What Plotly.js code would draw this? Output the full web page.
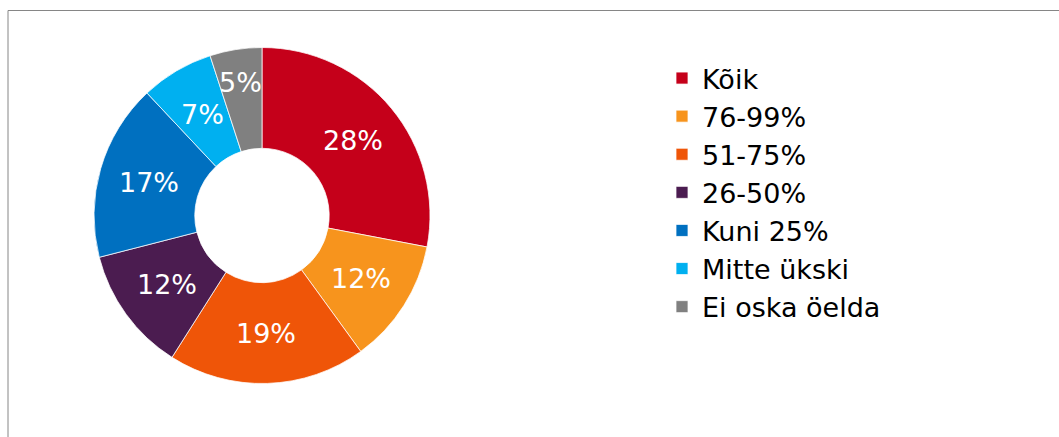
<!DOCTYPE html>
<html>
<head>
<meta charset="utf-8">
<script src="https://cdn.plot.ly/plotly-3.0.1.min.js"></script>
<style>html,body{margin:0;padding:0;background:#fff;}#chart{width:1059px;height:437px;}</style>
</head>
<body>
<div id="chart"></div>
<script>
const categories = ["Kõik", "76-99%", "51-75%", "26-50%", "Kuni 25%", "Mitte ükski", "Ei oska öelda"];
const shares = [28, 12, 19, 12, 17, 7, 5];
const colors = ["#C5001A", "#F7941D", "#EF5508", "#4B1C50", "#0070C0", "#00B0F0", "#808080"];

const W = 1059, H = 437;
// pie geometry (pixels)
const cx = 262, cy = 215.5, R = 168, HOLE = 0.4;
const FONT = "DejaVu Sans, Verdana, sans-serif";

const data = [{
  type: "pie",
  labels: categories,
  values: shares,
  sort: false,
  direction: "clockwise",
  rotation: 0,
  hole: HOLE,
  marker: {colors: colors, line: {color: "#ffffff", width: 0.75}},
  textinfo: "none",
  domain: {x: [(cx - R) / W, (cx + R) / W], y: [(H - cy - R) / H, (H - cy + R) / H]},
  hoverinfo: "none"
}];

// data labels placed at the middle angle of each slice (Excel-like)
const total = shares.reduce((a, b) => a + b, 0);
let cum = 0;
const annotations = shares.map((v) => {
  const mid = (cum + v / 2) / total * 2 * Math.PI;
  cum += v;
  const frac = v / total < 0.06 ? 0.8 : (1 + HOLE) / 2;
  const r = R * frac;
  const px = cx + r * Math.sin(mid);
  const py = cy - r * Math.cos(mid);
  return {
    xref: "paper", yref: "paper",
    x: px / W, y: (H - py) / H,
    xanchor: "center", yanchor: "middle",
    text: Math.round(v / total * 100) + "%",
    showarrow: false,
    font: {family: FONT, size: 27, color: "#ffffff"}
  };
});

const layout = {
  width: W, height: H,
  margin: {l: 0, r: 0, t: 0, b: 0},
  paper_bgcolor: "#ffffff",
  font: {family: FONT, color: "#000000"},
  showlegend: true,
  legend: {
    x: 662 / W, xanchor: "left",
    y: (H - 54) / H, yanchor: "top",
    font: {size: 27, color: "#000000", family: FONT},
    bgcolor: "rgba(0,0,0,0)",
    traceorder: "normal"
  },
  annotations: annotations,
  shapes: [{
    type: "rect", xref: "paper", yref: "paper",
    x0: 8 / W, x1: 1.05, y0: -0.05, y1: (H - 10.5) / H,
    line: {color: "#868686", width: 1}, fillcolor: "rgba(0,0,0,0)", layer: "below"
  }]
};

Plotly.newPlot("chart", data, layout, {displayModeBar: false, staticPlot: true});
</script>
</body>
</html>
